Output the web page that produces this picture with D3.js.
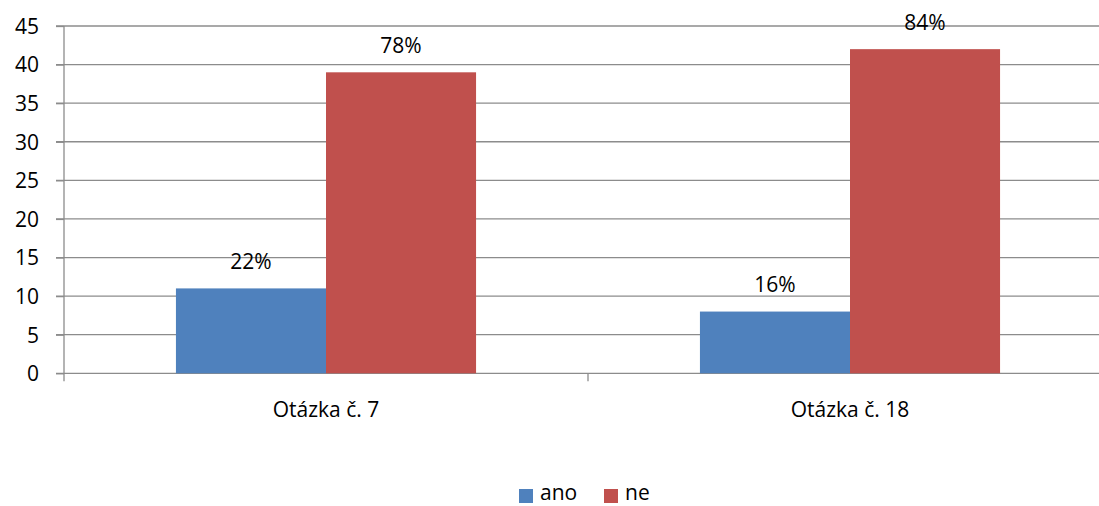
<!DOCTYPE html>
<html><head><meta charset="utf-8">
<script src="https://cdn.jsdelivr.net/npm/d3@7"></script>
<style>body{margin:0;background:#fff}svg{display:block}</style>
</head><body><svg id="c" width="1099" height="506"></svg>
<script>
const categories = ["Otázka č. 7", "Otázka č. 18"];
const seriesNames = ["ano", "ne"];
const anoValues = [11, 8];
const neValues = [39, 42];
const anoLabels = ["22%", "16%"];
const neLabels = ["78%", "84%"];
const yTicks = [0, 5, 10, 15, 20, 25, 30, 35, 40, 45];
const colors = ["#4F81BD", "#C0504D"];

const svg = d3.select("#c");
const font = "'Open Sans', Lato, sans-serif";
const fs = 21;
const pLeft = 64, pRight = 1112, pTop = 26, pBottom = 373.3;
const x = d3.scaleBand().domain(categories).range([pLeft, pRight]).paddingInner(0).paddingOuter(0);
const y = d3.scaleLinear().domain([0, 45]).range([pBottom, pTop]);
const xs = d3.scaleBand().domain(seriesNames).range([0, x.bandwidth()]).paddingInner(0).paddingOuter(0.746);

// gridlines
svg.append("g").selectAll("line").data(yTicks).join("line")
  .attr("x1", pLeft - 8).attr("x2", pRight)
  .attr("y1", d => y(d)).attr("y2", d => y(d))
  .attr("stroke", "#8c8c8c").attr("stroke-width", 1.3);

const series = [anoValues, neValues];
const labels = [anoLabels, neLabels];
series.forEach((vals, si) => {
  svg.append("g").selectAll("rect").data(vals).join("rect")
    .attr("x", (d, i) => x(categories[i]) + xs(seriesNames[si]))
    .attr("width", xs.bandwidth())
    .attr("y", d => y(d))
    .attr("height", d => y(0) - y(d))
    .attr("fill", colors[si]);
  svg.append("g").selectAll("text").data(vals).join("text")
    .attr("x", (d, i) => x(categories[i]) + xs(seriesNames[si]) + xs.bandwidth() / 2)
    .attr("y", d => y(d) - 19.5)
    .attr("text-anchor", "middle")
    .attr("font-family", font).attr("font-size", fs).attr("fill", "#000")
    .text((d, i) => labels[si][i]);
});

// y axis
const yAxis = d3.axisLeft(y).tickValues(yTicks).tickSize(8).tickPadding(10);
const ga = svg.append("g").attr("transform", `translate(${pLeft},0)`).call(yAxis);
ga.select(".domain").attr("stroke", "#8c8c8c").attr("stroke-width", 1.3).attr("d", `M0,${pTop}V${pBottom + 8}`);
ga.selectAll(".tick line").attr("stroke", "#8c8c8c").attr("stroke-width", 1.3);
ga.selectAll(".tick text").attr("font-family", font).attr("font-size", fs).attr("fill", "#000").attr("x", -25).attr("text-anchor", "end").attr("dy", "0.35em");

// x axis
const xAxis = d3.axisBottom(x).tickSize(0).tickPadding(0);
const gx = svg.append("g").attr("transform", `translate(0,${pBottom})`).call(xAxis);
gx.select(".domain").remove();
gx.selectAll(".tick text").attr("font-family", font).attr("font-size", fs).attr("fill", "#000").attr("dy", 0).attr("y", 43.5);
// category boundary ticks
svg.append("g").selectAll("line").data(categories.slice(1)).join("line")
  .attr("x1", d => x(d)).attr("x2", d => x(d))
  .attr("y1", pBottom).attr("y2", pBottom + 8)
  .attr("stroke", "#8c8c8c").attr("stroke-width", 1.3);

// legend
const legX = [519, 604];
const lg = svg.append("g");
seriesNames.forEach((n, i) => {
  lg.append("rect").attr("x", legX[i]).attr("y", 489).attr("width", 14).attr("height", 14).attr("fill", colors[i]);
  lg.append("text").attr("x", legX[i] + 21).attr("y", 500).attr("font-family", font).attr("font-size", fs).attr("fill", "#000").text(n);
});
</script></body></html>
